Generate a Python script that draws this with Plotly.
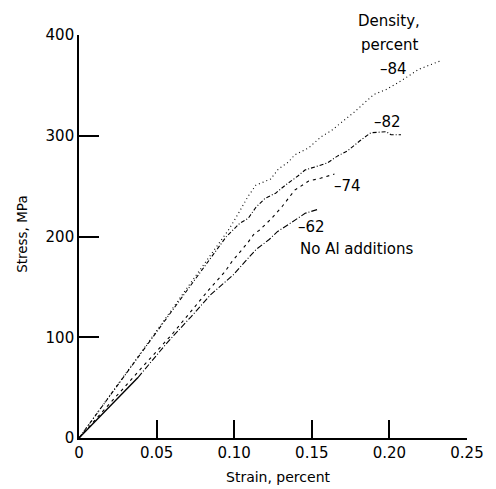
import plotly.graph_objects as go

# Density 84 percent
s84_strain = [0, 0.02, 0.04, 0.06, 0.08, 0.097, 0.1035, 0.109, 0.114, 0.1235, 0.1285, 0.135,
              0.139, 0.148, 0.156, 0.1625, 0.177, 0.19, 0.198, 0.207, 0.219, 0.234]
s84_stress = [0, 42, 85, 128, 171, 208, 225, 240, 251, 257, 267, 274,
              281, 288, 299, 305, 323, 341, 346, 354, 366, 375]
# Density 82 percent
s82_strain = [0, 0.02, 0.04, 0.06, 0.08, 0.095, 0.1035, 0.109, 0.114, 0.120, 0.1267, 0.133,
              0.141, 0.1456, 0.154, 0.160, 0.1667, 0.173, 0.181, 0.188, 0.198, 0.201, 0.2075]
s82_stress = [0, 42, 85, 127, 169, 200, 213, 218, 229, 238, 243, 251,
              260, 266, 270, 273, 280, 285, 295, 303, 304, 301, 301]
# Density 74 percent
s74_strain = [0, 0.02, 0.04, 0.06, 0.0836, 0.094, 0.0985, 0.1088, 0.113, 0.116, 0.1235, 0.131,
              0.135, 0.139, 0.148, 0.156, 0.1646]
s74_stress = [0, 35, 69, 103, 147, 165, 175, 194, 203, 206, 217, 230,
              238, 246, 255, 258, 262]
# Density 62 percent, no Al additions
s62_strain = [0, 0.038, 0.057, 0.072, 0.0846, 0.0994, 0.1077, 0.114, 0.1225, 0.128, 0.137, 0.1457, 0.154]
s62_stress = [0, 60, 95, 120, 142, 162, 176, 187, 197, 205, 214, 223, 227]

x_ticks = [0, 0.05, 0.10, 0.15, 0.20, 0.25]
x_ticklabels = ["0", "0.05", "0.10", "0.15", "0.20", "0.25"]
y_ticks = [0, 100, 200, 300, 400]
y_ticklabels = ["0", "100", "200", "300", "400"]

FONT = "DejaVu Sans"
fig = go.Figure()
line_w = 1.1
fig.add_trace(go.Scatter(x=s84_strain, y=s84_stress, mode="lines",
                         line=dict(color="black", width=line_w, dash="1px,3px")))
fig.add_trace(go.Scatter(x=s82_strain, y=s82_stress, mode="lines",
                         line=dict(color="black", width=line_w, dash="4px,2px,1px,2px")))
fig.add_trace(go.Scatter(x=s74_strain, y=s74_stress, mode="lines",
                         line=dict(color="black", width=line_w, dash="3px,4px")))
fig.add_trace(go.Scatter(x=s62_strain[1:], y=s62_stress[1:], mode="lines",
                         line=dict(color="black", width=line_w, dash="6px,2px,1px,2px")))
fig.add_trace(go.Scatter(x=s62_strain[:2], y=s62_stress[:2], mode="lines",
                         line=dict(color="black", width=1.4)))

ann_font = dict(family=FONT, size=15, color="black")
labels = [
    ("percent", 0.2006, 390),
    ("\u201384", 0.2024, 366),
    ("\u201382", 0.1987, 314),
    ("\u201374", 0.1728, 250),
    ("\u201362", 0.150, 209),
    ("No Al additions", 0.179, 188),
]
annotations = [dict(x=x, y=y, xref="x", yref="y", text=t, showarrow=False,
                    font=ann_font, xanchor="center", yanchor="middle")
               for t, x, y in labels]
annotations.append(dict(x=0.200, y=1.0335, xref="x", yref="paper", text="Density,",
                        showarrow=False, font=ann_font, xanchor="center", yanchor="middle"))
annotations.append(dict(x=0.515, y=-0.098, xref="paper", yref="paper", text="Strain, percent",
                        showarrow=False, font=dict(family=FONT, size=14, color="black"),
                        xanchor="center", yanchor="middle"))
annotations.append(dict(x=-0.149, y=0.507, xref="paper", yref="paper", text="Stress, MPa",
                        showarrow=False, textangle=-90,
                        font=dict(family=FONT, size=13.5, color="black"),
                        xanchor="center", yanchor="middle"))

fig.update_layout(
    width=488, height=481,
    margin=dict(l=71, r=21, t=27, b=51),
    paper_bgcolor="white", plot_bgcolor="white",
    showlegend=False,
    annotations=annotations,
    xaxis=dict(range=[0, 0.25], showline=True, linecolor="black", linewidth=1.6,
               ticks="inside", ticklen=18, tickwidth=1.6, tickcolor="black",
               tickvals=x_ticks, ticktext=x_ticklabels, showgrid=False, zeroline=False,
               tickfont=dict(family=FONT, size=15, color="black")),
    yaxis=dict(range=[0, 400], showline=True, linecolor="black", linewidth=1.6,
               ticks="inside", ticklen=20, tickwidth=1.6, tickcolor="black",
               tickvals=y_ticks, ticktext=y_ticklabels, showgrid=False, zeroline=False,
               tickfont=dict(family=FONT, size=15, color="black")),
)
fig.write_html("out.html")
